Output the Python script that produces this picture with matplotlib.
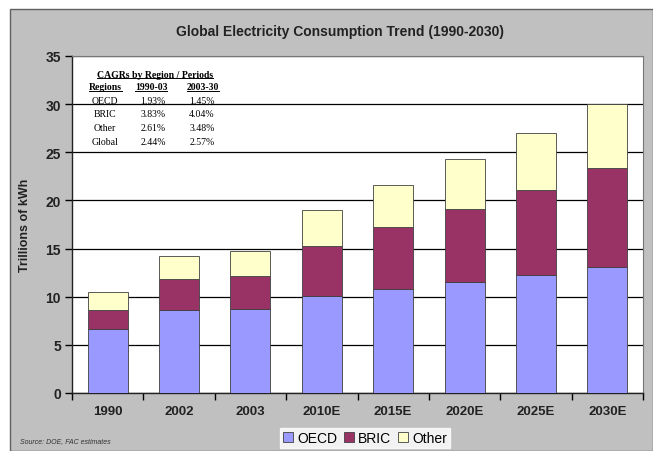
import matplotlib
matplotlib.use('Agg')

import numpy as np
import matplotlib.pyplot as plt
from matplotlib.patches import Rectangle
from matplotlib.lines import Line2D

plt.rcParams['font.family'] = ['Liberation Sans', 'DejaVu Sans']

years = ['1990', '2002', '2003', '2010E', '2015E', '2020E', '2025E', '2030E']
oecd = [6.64, 8.61, 8.72, 10.03, 10.79, 11.52, 12.28, 13.11]
bric = [2.01, 3.22, 3.46, 5.22, 6.40, 7.61, 8.85, 10.24]
other = [1.87, 2.42, 2.52, 3.71, 4.43, 5.15, 5.88, 6.71]

# CAGR table shown inside the chart
cagr_regions = ['OECD', 'BRIC', 'Other', 'Global']
cagr_9003 = ['1.93%', '3.83%', '2.61%', '2.44%']
cagr_0330 = ['1.45%', '4.04%', '3.48%', '2.57%']

fig = plt.figure(figsize=(6.53, 4.52), dpi=100, facecolor='white')
W, H = 653, 452

# grey panel behind the chart
fig.patches.append(Rectangle((10 / W, 0), 1 - 10 / W, 1 - 10 / H, transform=fig.transFigure,
                             facecolor='#c0c0c0', edgecolor='#606060', linewidth=1.0, zorder=-10))

ax = fig.add_axes([72 / W, 1 - 394 / H, (643 - 72) / W, (394 - 57) / H])
ax.set_facecolor('white')

x = np.arange(len(years))
w = 0.56
edge = dict(edgecolor='#404040', linewidth=0.6)
b1 = ax.bar(x, oecd, w, color='#9999ff', label='OECD', zorder=3, **edge)
b2 = ax.bar(x, bric, w, bottom=oecd, color='#993366', label='BRIC', zorder=3, **edge)
b3 = ax.bar(x, other, w, bottom=np.add(oecd, bric), color='#ffffcc', label='Other', zorder=3, **edge)

ax.set_xlim(-0.5, len(years) - 0.5)
ax.set_ylim(0, 35)
ax.set_yticks(np.arange(0, 36, 5))
ax.yaxis.grid(True, color='black', linewidth=0.9, zorder=0)
ax.set_axisbelow(True)

ax.set_xticks(x)
ax.set_xticklabels(years, fontsize=9.5, fontweight='bold', color='#222222')
ax.set_xticks(np.arange(-0.5, len(years), 1), minor=True)
ax.tick_params(axis='x', which='major', length=0, pad=9)
ax.tick_params(axis='x', which='minor', length=5, direction='out', width=1.0)
ax.tick_params(axis='y', length=5, direction='out', width=1.0, pad=3)
for lab in ax.get_yticklabels():
    lab.set_fontsize(10)
    lab.set_fontweight('bold')
    lab.set_color('#222222')

for s in ['left', 'bottom']:
    ax.spines[s].set_color('#222222')
    ax.spines[s].set_linewidth(1.0)
for s in ['top', 'right']:
    ax.spines[s].set_color('#777777')
    ax.spines[s].set_linewidth(0.8)

ax.set_ylabel('Trillions of kWh', fontsize=9, fontweight='bold', color='#222222', labelpad=10)

fig.text(340 / W, 1 - 32 / H, 'Global Electricity Consumption Trend (1990-2030)',
         ha='center', va='center', fontsize=10, fontweight='bold', color='#222222')

leg = fig.legend(handles=[b1, b2, b3], loc='center', bbox_to_anchor=(365 / W, 1 - 439 / H),
                 ncol=3, fontsize=10, frameon=True, fancybox=False, borderpad=0.25,
                 handlelength=0.7, handleheight=0.7, handletextpad=0.3, columnspacing=0.5,
                 borderaxespad=0)
leg.get_frame().set_facecolor('white')
leg.get_frame().set_edgecolor('white')

fig.text(20 / W, 1 - 442 / H, 'Source: DOE, FAC estimates', fontsize=5, style='italic',
         color='#333333', va='center')

# CAGR table (serif, in axes coordinates)
serif = ['Liberation Serif', 'DejaVu Serif']

def ax_xy(px, py):
    return (px - 72) / 571, (394 - py) / 337

under = []
tx, ty = ax_xy(155, 75)
under.append(ax.text(tx, ty, 'CAGRs by Region / Periods', transform=ax.transAxes, family=serif,
                     fontsize=7, fontweight='bold', ha='center', va='center', zorder=5))
for px, txt in [(105, 'Regions'), (151, '1990-03'), (203, '2003-30')]:
    tx, ty = ax_xy(px, 88)
    under.append(ax.text(tx, ty, txt, transform=ax.transAxes, family=serif, fontsize=7,
                         fontweight='bold', ha='center', va='center', zorder=5))

for i, reg in enumerate(cagr_regions):
    py = 101 + i * 13.7
    for px, txt in [(105, reg), (153, cagr_9003[i]), (202, cagr_0330[i])]:
        tx, ty = ax_xy(px, py)
        ax.text(tx, ty, txt, transform=ax.transAxes, family=serif, fontsize=7,
                ha='center', va='center', zorder=5)

# underline the table headings
fig.canvas.draw()
r = fig.canvas.get_renderer()
for t in under:
    bb = t.get_window_extent(r)
    yl = bb.y0 + 1
    fig.lines.append(Line2D([bb.x0 / W, bb.x1 / W], [yl / H, yl / H], transform=fig.transFigure,
                            color='black', linewidth=0.7))

fig.savefig('out.png', dpi=100, facecolor=fig.get_facecolor())
